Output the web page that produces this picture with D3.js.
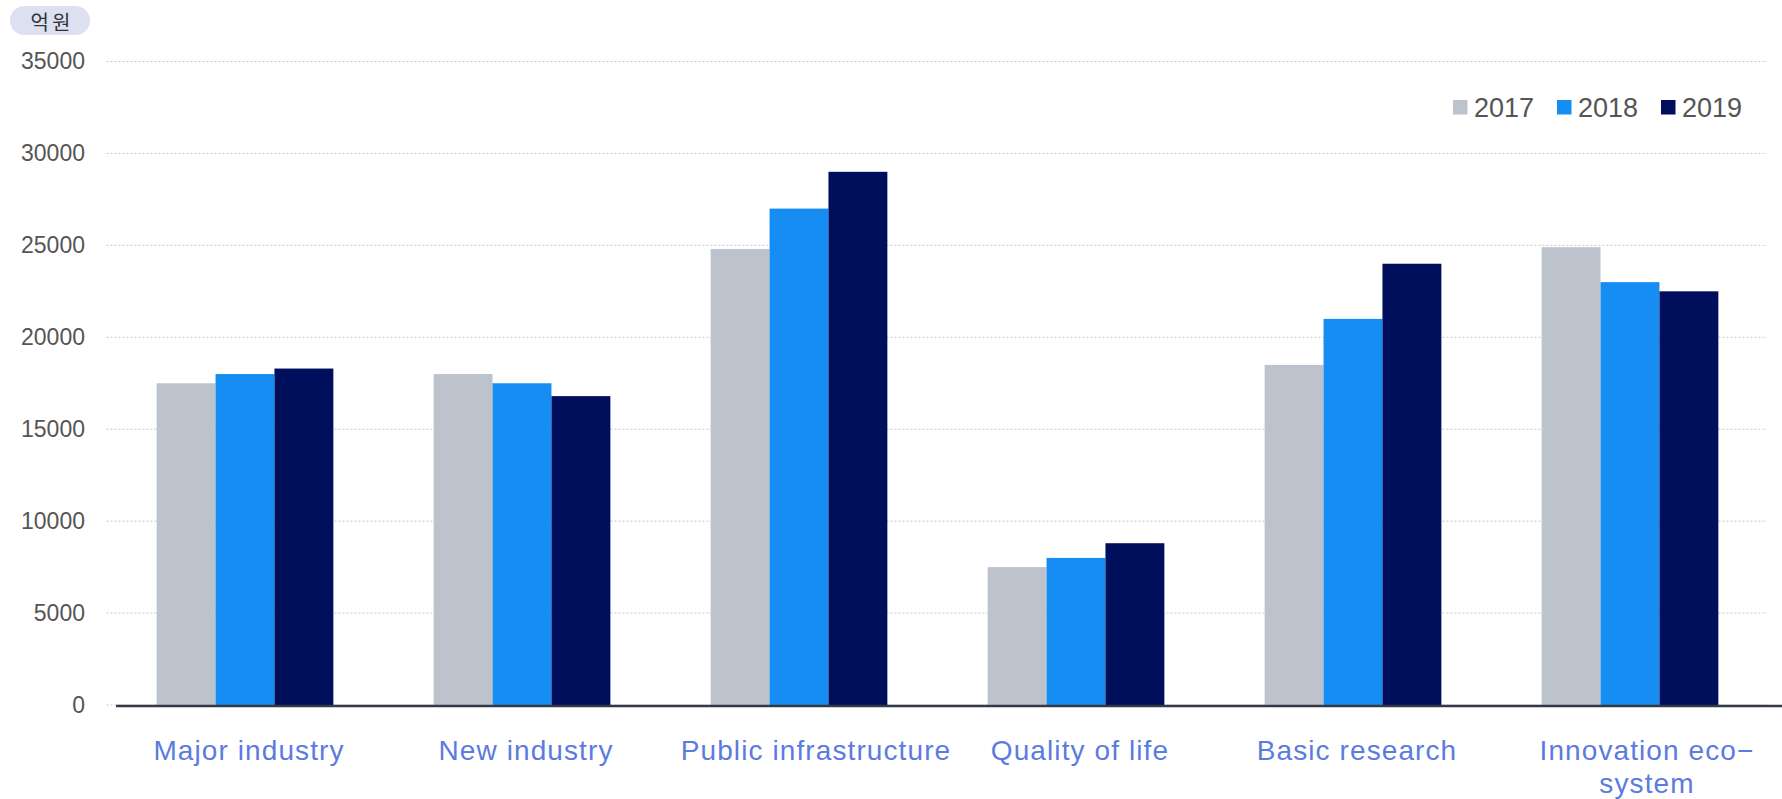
<!DOCTYPE html>
<html><head><meta charset="utf-8">
<script src="https://cdn.jsdelivr.net/npm/d3@7"></script>
<style>body{margin:0;background:#fff;}svg{display:block;font-family:"Liberation Sans",Arial,sans-serif;}</style>
</head><body><svg id="c" width="1782" height="799"></svg>
<script>
const categories = ["Major industry","New industry","Public infrastructure","Quality of life","Basic research","Innovation eco- system"];
const categoryLines = [["Major industry"],["New industry"],["Public infrastructure"],["Quality of life"],["Basic research"],["Innovation eco−","system"]];
const years = ["2017","2018","2019"];
const values2017 = [17500,18000,24800,7500,18500,24900];
const values2018 = [18000,17500,27000,8000,21000,23000];
const values2019 = [18300,16800,29000,8800,24000,22500];
const yTicks = [0,5000,10000,15000,20000,25000,30000,35000];
const unitLabel = "억원";
const colors = ["#bdc3cd","#168df3","#000f5c"];

const series = [values2017, values2018, values2019];
const svg = d3.select("#c");
const W = 1782, H = 799;
const x0 = 106.5, x1 = 1768.5, yTop = 61.5, yBot = 705;

const x = d3.scaleBand().domain(categories).range([x0, x1]).paddingInner(0.362).paddingOuter(0.181);
const xs = d3.scaleBand().domain(years).range([0, x.bandwidth()]);
const y = d3.scaleLinear().domain([0,35000]).range([yBot, yTop]);

// gridlines
svg.append("g").selectAll("line").data(yTicks).join("line")
  .attr("x1", x0).attr("x2", 1767).attr("y1", d=>y(d)).attr("y2", d=>y(d))
  .attr("stroke","#c8c8c8").attr("stroke-width",1).attr("stroke-dasharray","2,2");

// y tick labels
const yAxis = d3.axisLeft(y).tickValues(yTicks).tickSize(0).tickPadding(0).tickFormat(d3.format("d"));
const ga = svg.append("g").attr("transform","translate(85,0)").call(yAxis);
ga.select(".domain").remove();
ga.selectAll("text").attr("fill","#555").attr("font-size","23px").attr("font-family","'Liberation Sans',Arial,sans-serif");

// bars
const g = svg.append("g");
categories.forEach((c,i)=>{
  years.forEach((yr,j)=>{
    g.append("rect").attr("x", x(c)+xs(yr)).attr("width", xs.bandwidth())
      .attr("y", y(series[j][i])).attr("height", yBot - y(series[j][i]))
      .attr("fill", colors[j]);
  });
});

// axis line
svg.append("line").attr("x1",116).attr("x2",W).attr("y1",yBot+1).attr("y2",yBot+1)
  .attr("stroke","#333a45").attr("stroke-width",2.5);

// category labels
categories.forEach((c,i)=>{
  const t = svg.append("text").attr("text-anchor","middle").attr("fill","#5b7be0")
    .attr("font-size","28px").attr("letter-spacing","1.1px").attr("y",760);
  categoryLines[i].forEach((ln,k)=>{
    t.append("tspan").attr("dy", k===0?0:33).text(ln);
  });
  const wide = t.node().getComputedTextLength() > 230 || categoryLines[i].length > 1;
  const cx = x(c)+x.bandwidth()/2 + (wide ? 17 : 4);
  t.selectAll("tspan").attr("x", cx);
});

// unit pill
svg.append("rect").attr("x",10).attr("y",6).attr("width",80).attr("height",29).attr("rx",14.5)
  .attr("fill","#dde0f1");
svg.append("text").attr("x",52).attr("y",21).attr("text-anchor","middle").attr("dominant-baseline","central")
  .attr("font-family","'Noto Sans CJK KR',sans-serif").attr("font-size","20px").attr("letter-spacing","3px").attr("fill","#333").text(unitLabel);

// legend
const legX = [1453,1557,1661];
const lg = svg.append("g");
years.forEach((yr,j)=>{
  lg.append("rect").attr("x",legX[j]).attr("y",100).attr("width",14.5).attr("height",14.5).attr("fill",colors[j]);
  lg.append("text").attr("x",legX[j]+21).attr("y",107.5).attr("dominant-baseline","central")
    .attr("font-size","27px").attr("fill","#555").text(yr);
});
</script></body></html>
